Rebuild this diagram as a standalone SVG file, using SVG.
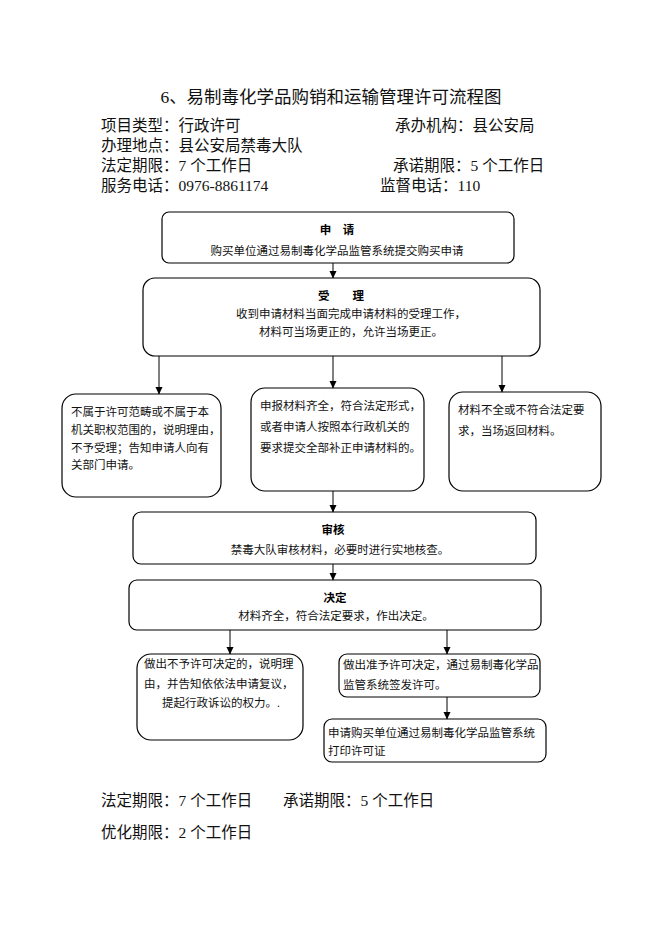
<svg xmlns="http://www.w3.org/2000/svg" width="662" height="936" viewBox="0 0 662 936">
<defs>
<marker id="arr" markerWidth="8" markerHeight="8" refX="7" refY="4" orient="auto" markerUnits="userSpaceOnUse">
<path d="M0,0.5 L7.5,4 L0,7.5 Z" fill="#000"/>
</marker>
<style>
.t{font-family:"Liberation Serif","Noto Sans CJK SC",serif;fill:#111}
.h{font-size:15.5px}
.ti{font-size:17.5px}
.b{font-size:11.5px}
.bt{font-size:11.5px;font-weight:bold;font-family:"Noto Sans CJK SC",sans-serif;fill:#000}
.box{fill:#fff;stroke:#000;stroke-width:1.2}
.c{stroke:#000;stroke-width:1;fill:none;marker-end:url(#arr)}
</style>
</defs>
<rect width="662" height="936" fill="#fff"/>
<g id="header">
<text class="t ti" x="331" y="103" text-anchor="middle">6、易制毒化学品购销和运输管理许可流程图</text>
<text class="t h" x="101" y="131">项目类型：行政许可</text>
<text class="t h" x="395" y="131">承办机构：县公安局</text>
<text class="t h" x="101" y="151">办理地点：县公安局禁毒大队</text>
<text class="t h" x="101" y="171">法定期限：7 个工作日</text>
<text class="t h" x="393" y="171">承诺期限：5 个工作日</text>
<text class="t h" x="101" y="191">服务电话：0976-8861174</text>
<text class="t h" x="380" y="191">监督电话：110</text>
</g>
<g id="n-apply">
<rect class="box" x="162" y="212" width="352" height="51" rx="7"/>
<text class="bt" x="337" y="234" text-anchor="middle">申　请</text>
<text class="t b" x="337" y="255" text-anchor="middle">购买单位通过易制毒化学品监管系统提交购买申请</text>
</g>
<g id="n-accept">
<rect class="box" x="143" y="278" width="397" height="78" rx="12"/>
<text class="bt" x="341" y="300" text-anchor="middle">受　　理</text>
<text class="t b" x="351" y="318" text-anchor="middle">收到申请材料当面完成申请材料的受理工作，</text>
<text class="t b" x="351" y="336" text-anchor="middle">材料可当场更正的，允许当场更正。</text>
</g>
<g id="n-reject">
<rect class="box" x="62" y="394" width="159" height="103" rx="14"/>
<text class="t b" x="71" y="416">不属于许可范畴或不属于本</text>
<text class="t b" x="71" y="434">机关职权范围的，说明理由，</text>
<text class="t b" x="71" y="452">不予受理；告知申请人向有</text>
<text class="t b" x="71" y="469">关部门申请。</text>
</g>
<g id="n-complete">
<rect class="box" x="251" y="388" width="173" height="103" rx="14"/>
<text class="t b" x="260" y="410">申报材料齐全，符合法定形式，</text>
<text class="t b" x="260" y="431">或者申请人按照本行政机关的</text>
<text class="t b" x="260" y="452">要求提交全部补正申请材料的。</text>
</g>
<g id="n-return">
<rect class="box" x="449" y="392" width="152" height="99" rx="14"/>
<text class="t b" x="458" y="414">材料不全或不符合法定要</text>
<text class="t b" x="458" y="435">求，当场返回材料。</text>
</g>
<g id="n-review">
<rect class="box" x="133" y="512" width="403" height="52" rx="8"/>
<text class="bt" x="333" y="534" text-anchor="middle">审核</text>
<text class="t b" x="340" y="554" text-anchor="middle">禁毒大队审核材料，必要时进行实地核查。</text>
</g>
<g id="n-decide">
<rect class="box" x="129" y="580" width="412" height="50" rx="8"/>
<text class="bt" x="335" y="602" text-anchor="middle">决定</text>
<text class="t b" x="336" y="620" text-anchor="middle">材料齐全，符合法定要求，作出决定。</text>
</g>
<g id="n-deny">
<rect class="box" x="137" y="654" width="166" height="86" rx="14"/>
<text class="t b" x="144" y="668">做出不予许可决定的，说明理</text>
<text class="t b" x="144" y="688">由，并告知依依法申请复议，</text>
<text class="t b" x="162" y="707">提起行政诉讼的权力。.</text>
</g>
<g id="n-grant">
<rect class="box" x="339" y="654" width="201" height="43" rx="8"/>
<text class="t b" x="343" y="669">做出准予许可决定，通过易制毒化学品</text>
<text class="t b" x="343" y="689">监管系统签发许可。</text>
</g>
<g id="n-print">
<rect class="box" x="324" y="719" width="222" height="43" rx="8"/>
<text class="t b" x="328" y="737">申请购买单位通过易制毒化学品监管系统</text>
<text class="t b" x="328" y="755">打印许可证</text>
</g>
<g id="connectors">
<line class="c" x1="333" y1="263" x2="333" y2="278"/>
<line class="c" x1="159" y1="356" x2="159" y2="394"/>
<line class="c" x1="333" y1="356" x2="333" y2="388"/>
<line class="c" x1="502" y1="356" x2="502" y2="392"/>
<line class="c" x1="333" y1="491" x2="333" y2="512"/>
<line class="c" x1="333" y1="564" x2="333" y2="580"/>
<line class="c" x1="230" y1="630" x2="230" y2="654"/>
<line class="c" x1="447" y1="630" x2="447" y2="654"/>
<line class="c" x1="447" y1="697" x2="447" y2="719"/>
</g>
<g id="footer">
<text class="t h" x="101" y="806">法定期限：7 个工作日</text>
<text class="t h" x="283" y="806">承诺期限：5 个工作日</text>
<text class="t h" x="101" y="838">优化期限：2 个工作日</text>
</g>
</svg>
